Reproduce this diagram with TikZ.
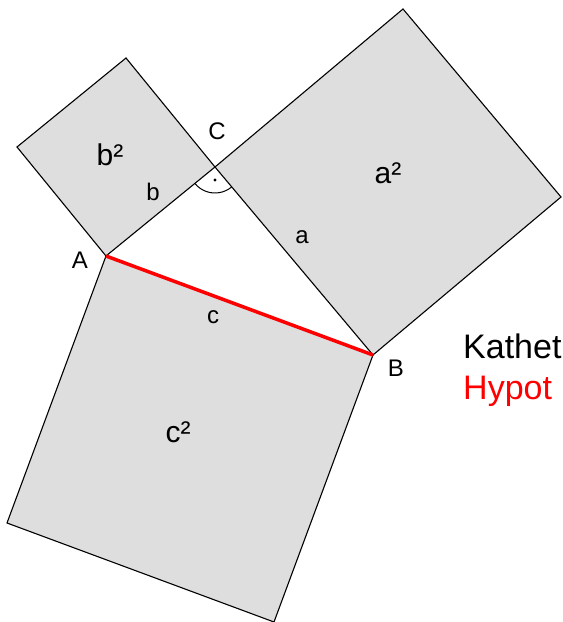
\documentclass[tikz,border=0pt]{standalone}
\usepackage{fontspec}
\setmainfont{Liberation Sans}
\definecolor{sqgray}{RGB}{222,222,222}
\tikzset{
  sq/.style={fill=sqgray, draw=black, line width=1.1pt, line join=miter},
  lbl/.style={font=\fontsize{24}{28}\selectfont, inner sep=0pt},
  sqlbl/.style={font=\fontsize{30}{34}\selectfont, inner sep=0pt},
  legend/.style={font=\fontsize{34}{38}\selectfont, inner sep=0pt, anchor=base west}
}
\begin{document}
\begin{tikzpicture}[x=1pt,y=1pt]
\useasboundingbox (0,0) rectangle (563,622);
\clip (0,0) rectangle (563,622);
% vertices
\coordinate (A) at (106,366);
\coordinate (B) at (373,267);
\coordinate (C) at (215,455);
\coordinate (A2) at (17,475);
\coordinate (C2) at (126,564);
\coordinate (C3) at (403,613);
\coordinate (B3) at (561,425);
\coordinate (A4) at (7,99);
\coordinate (B4) at (274,0);
% squares
\draw[sq] (A) -- (C) -- (C2) -- (A2) -- cycle;
\draw[sq] (C) -- (B) -- (B3) -- (C3) -- cycle;
\draw[sq] (A) -- (B) -- (B4) -- (A4) -- cycle;
% hypotenuse
\draw[red, line width=3.5pt] (A) -- (B);
% right angle
\draw[line width=1pt] ([shift={(219.8:26)}]C) arc[start angle=219.8, end angle=309.9, radius=26];
\fill (215,442) circle (1.6);
% labels
\node[lbl] (lC) at (217,491) {C};
\node[lbl] (lA) at (80,362) {A};
\node[lbl] (lB) at (396,254) {B};
\node[lbl] (la) at (302,385) {a};
\node[lbl] (lb) at (153,430) {b};
\node[lbl] (lc) at (213,305) {c};
\node[sqlbl] (la2) at (388,449) {a²};
\node[sqlbl] (lb2) at (110,467) {b²};
\node[sqlbl] (lc2) at (178,190) {c²};
\node[legend] (kat) at (463,263) {Kathet};
\node[legend, text=red] (hyp) at (463,222) {Hypot};
\end{tikzpicture}
\end{document}
